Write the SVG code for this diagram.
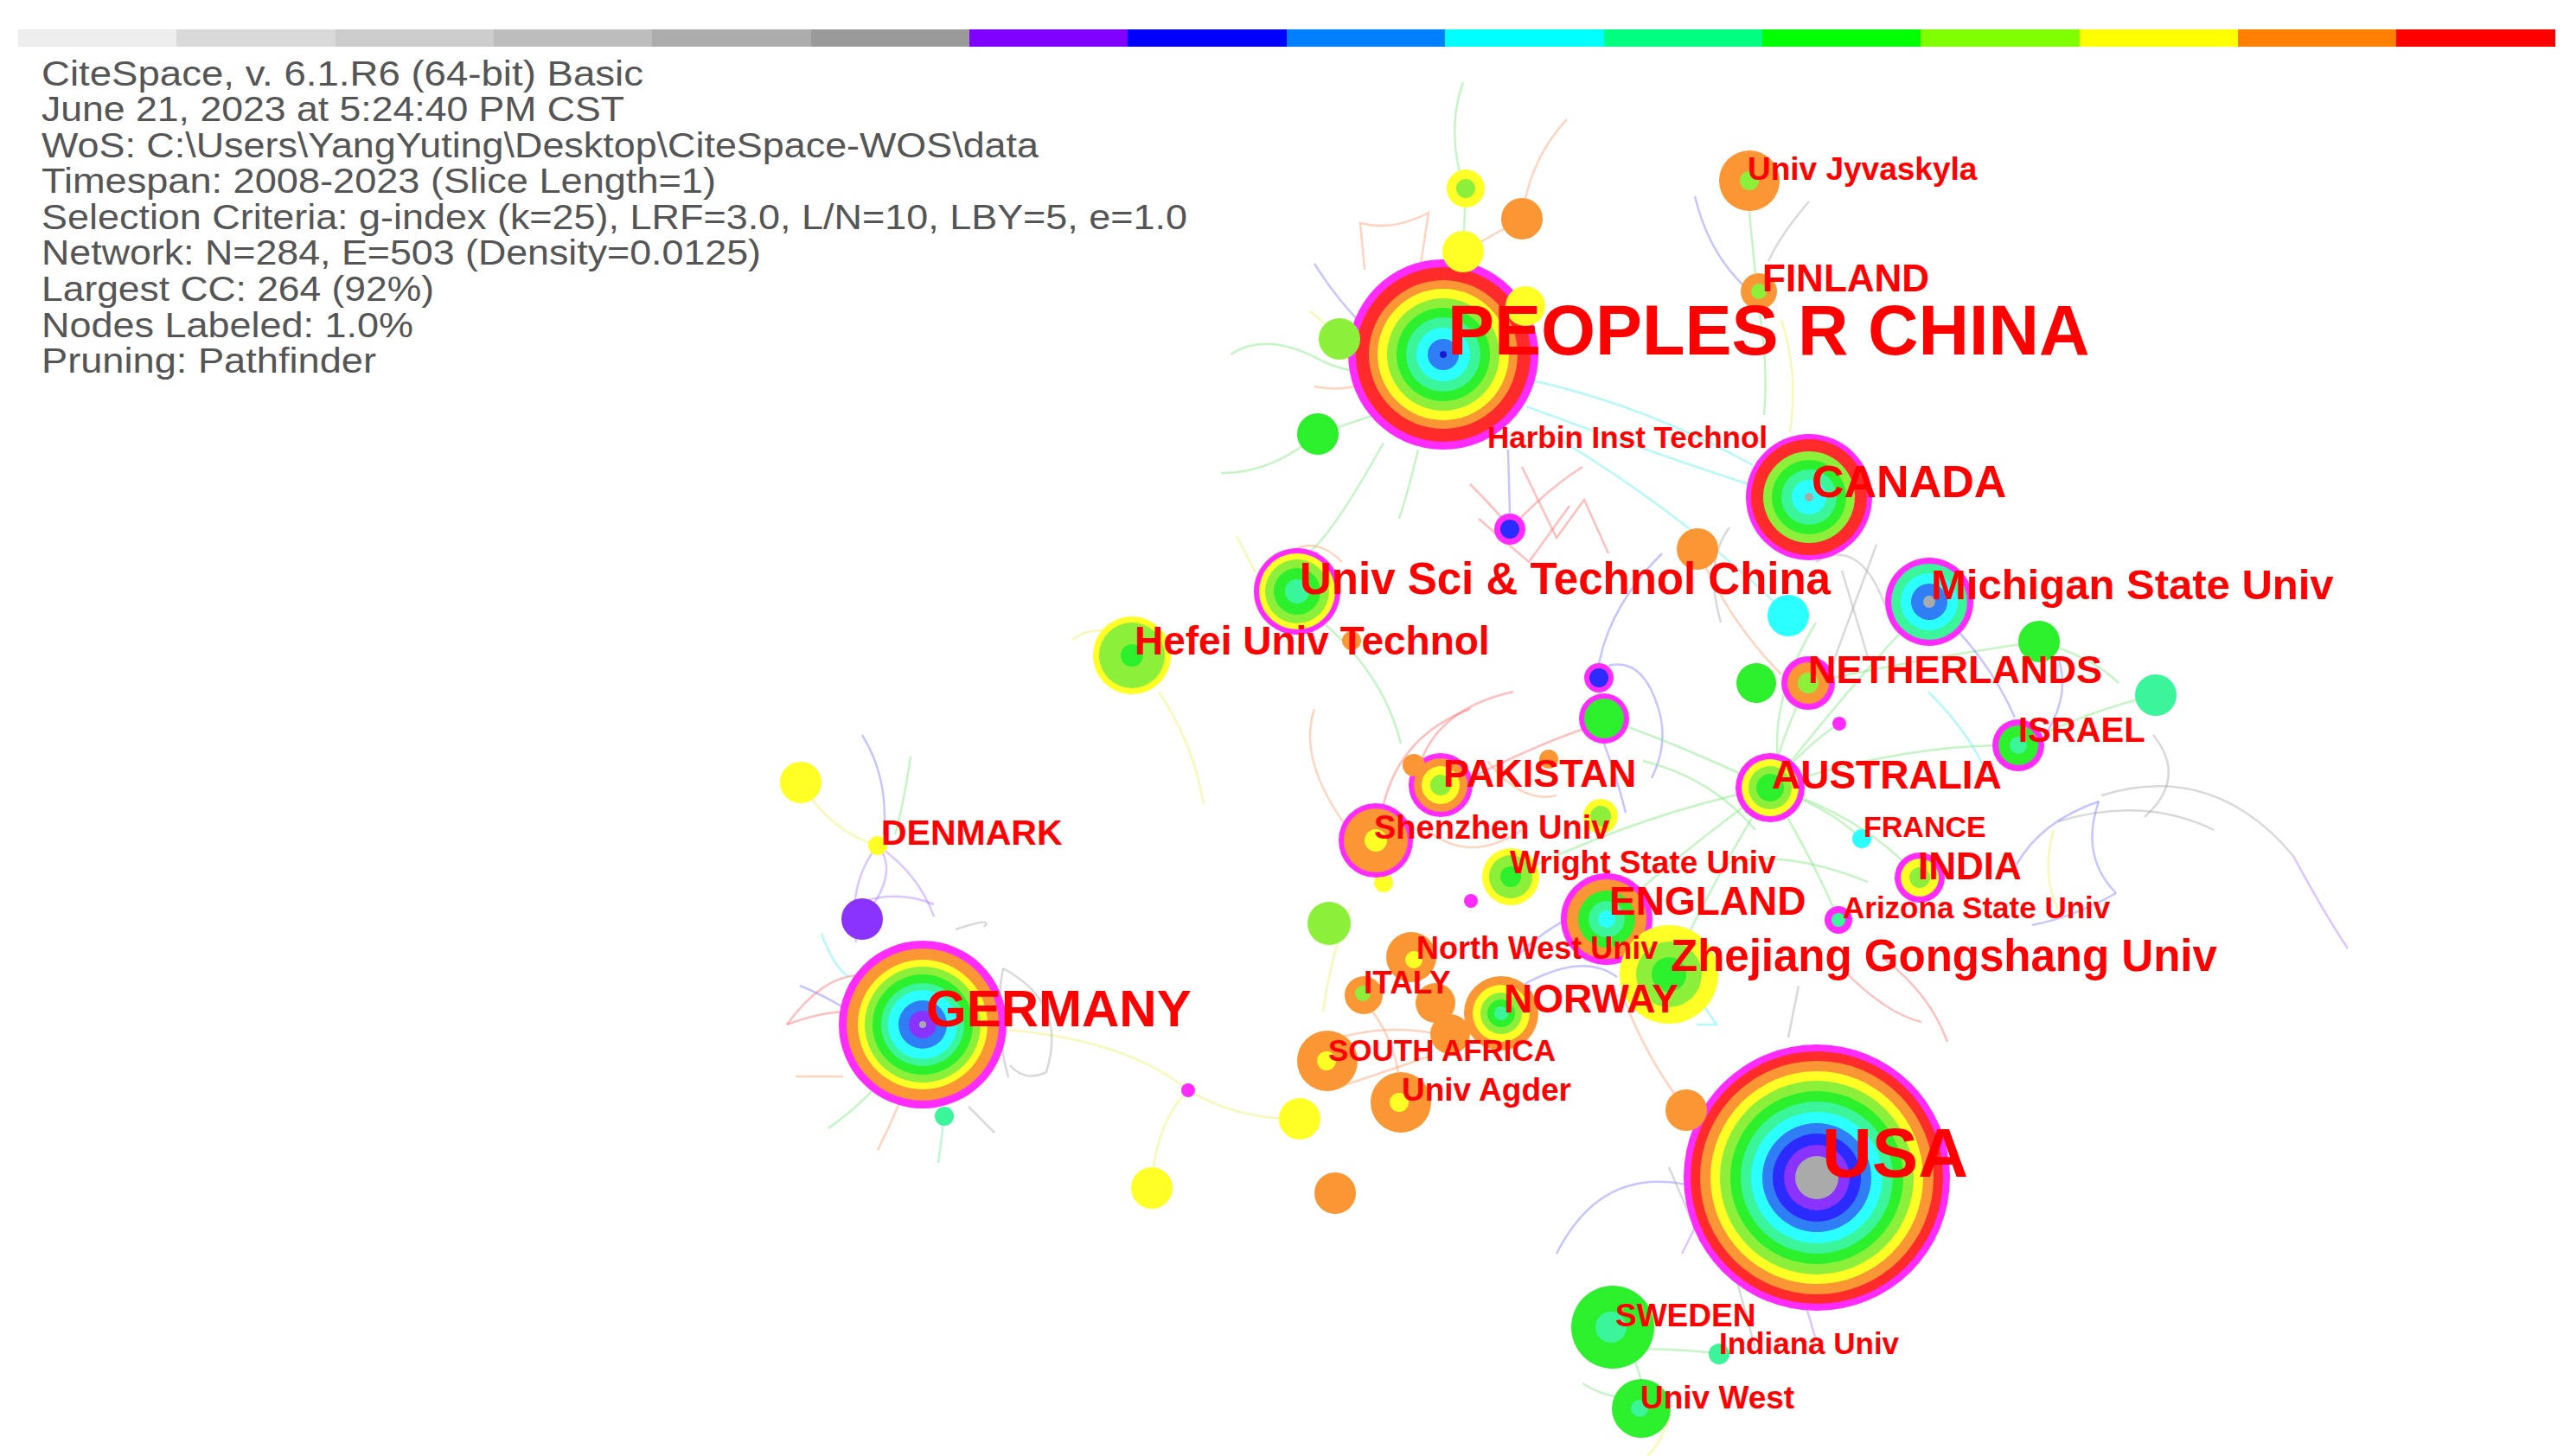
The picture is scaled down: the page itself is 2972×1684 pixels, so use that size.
<svg xmlns="http://www.w3.org/2000/svg" width="2972" height="1684" viewBox="0 0 2972 1684">
<style>
.mg{fill:#ff2bff}.rd{fill:#ff2b2b}.or{fill:#fa9633}.ye{fill:#ffff26}.ch{fill:#8cf03a}.gr{fill:#2cf02c}.sp{fill:#3af59a}.cy{fill:#2bffff}.az{fill:#2f7ef5}.bl{fill:#2b2bff}.pu{fill:#8a33ff}.gy{fill:#aaaaaa}.db{fill:#1a1ad0}
.e{fill:none;stroke-width:2.5;stroke-opacity:0.45}
.eg{stroke:#7fe87f}.eb{stroke:#8080ff}.eo{stroke:#ffa070}.er{stroke:#ff7070}.ec{stroke:#60f0f0}.ey{stroke:#f0f060}.ep{stroke:#b080ff}.ea{stroke:#aaaaaa}.es{stroke:#70f0b0}
.hd{font-family:"Liberation Sans",Arial,sans-serif;font-size:40px;fill:#555555}
.lb{font-family:"Liberation Sans",Arial,sans-serif;font-weight:bold;fill:#ff0000}
</style>
<rect width="2972" height="1684" fill="#ffffff"/>
<g id="timebar">
<rect x="21" y="34" width="184" height="20" fill="#eeeeee"/>
<rect x="204" y="34" width="184" height="20" fill="#d9d9d9"/>
<rect x="388" y="34" width="184" height="20" fill="#cccccc"/>
<rect x="571" y="34" width="184" height="20" fill="#bdbdbd"/>
<rect x="754" y="34" width="184" height="20" fill="#acacac"/>
<rect x="938" y="34" width="184" height="20" fill="#9a9a9a"/>
<rect x="1121" y="34" width="184" height="20" fill="#8000ff"/>
<rect x="1304" y="34" width="184" height="20" fill="#0000ff"/>
<rect x="1488" y="34" width="184" height="20" fill="#0080ff"/>
<rect x="1671" y="34" width="184" height="20" fill="#00ffff"/>
<rect x="1855" y="34" width="184" height="20" fill="#00ff80"/>
<rect x="2038" y="34" width="184" height="20" fill="#00ff00"/>
<rect x="2221" y="34" width="184" height="20" fill="#80ff00"/>
<rect x="2405" y="34" width="184" height="20" fill="#ffff00"/>
<rect x="2588" y="34" width="184" height="20" fill="#ff8000"/>
<rect x="2771" y="34" width="184" height="20" fill="#ff0000"/>
</g>
<g id="header">
<text class="hd" x="48" y="99" textLength="696" lengthAdjust="spacingAndGlyphs">CiteSpace, v. 6.1.R6 (64-bit) Basic</text>
<text class="hd" x="48" y="140" textLength="674" lengthAdjust="spacingAndGlyphs">June 21, 2023 at 5:24:40 PM CST</text>
<text class="hd" x="48" y="182" textLength="1153" lengthAdjust="spacingAndGlyphs">WoS: C:\Users\YangYuting\Desktop\CiteSpace-WOS\data</text>
<text class="hd" x="48" y="223" textLength="780" lengthAdjust="spacingAndGlyphs">Timespan: 2008-2023 (Slice Length=1)</text>
<text class="hd" x="48" y="265" textLength="1325" lengthAdjust="spacingAndGlyphs">Selection Criteria: g-index (k=25), LRF=3.0, L/N=10, LBY=5, e=1.0</text>
<text class="hd" x="48" y="306" textLength="832" lengthAdjust="spacingAndGlyphs">Network: N=284, E=503 (Density=0.0125)</text>
<text class="hd" x="48" y="348" textLength="454" lengthAdjust="spacingAndGlyphs">Largest CC: 264 (92%)</text>
<text class="hd" x="48" y="390" textLength="430" lengthAdjust="spacingAndGlyphs">Nodes Labeled: 1.0%</text>
<text class="hd" x="48" y="431" textLength="387" lengthAdjust="spacingAndGlyphs">Pruning: Pathfinder</text>
</g>
<g id="connectors">
<path class="e eg" d="M1693,218 Q1672,150 1692,95"/>
<path class="e eo" d="M1760,253 Q1768,185 1812,138"/>
<path class="e eo" d="M1692,291 L1760,253"/>
<path class="e eg" d="M1695,218 L1692,291"/>
<path class="e eb" d="M1520,305 Q1545,345 1575,375"/>
<path class="e eg" d="M1423,410 Q1465,382 1530,418 Q1560,432 1585,428"/>
<path class="e eg" d="M1412,547 Q1470,548 1524,502 L1595,478"/>
<path class="e eo" d="M1578,312 L1573,258 Q1610,268 1652,246 L1642,312"/>
<path class="e eo" d="M1520,447 Q1545,452 1566,447"/>
<path class="e ey" d="M1515,360 L1548,388"/>
<path class="e ec" d="M1765,470 Q1900,520 2022,560"/>
<path class="e ec" d="M1772,440 Q1905,470 2027,538"/>
<path class="e ec" d="M1790,500 Q1950,595 2068,712"/>
<path class="e eg" d="M1640,520 Q1628,570 1618,600"/>
<path class="e eg" d="M1600,512 Q1540,620 1512,640"/>
<path class="e er" d="M1700,560 Q1738,598 1746,612"/>
<path class="e er" d="M1746,612 Q1790,565 1830,540"/>
<path class="e er" d="M1760,540 L1800,622 L1832,578 L1860,640"/>
<path class="e er" d="M1710,600 L1768,650 L1815,585"/>
<path class="e eb" d="M1746,594 L1744,520"/>
<path class="e eb" d="M1849,768 Q1862,700 1922,640"/>
<path class="e eb" d="M1860,770 Q1900,760 1918,820 Q1930,860 1910,900"/>
<path class="e ea" d="M2100,650 Q2150,620 2180,700"/>
<path class="e ea" d="M2130,660 L2160,760"/>
<path class="e ea" d="M2170,630 L2100,820"/>
<path class="e ea" d="M2000,610 Q1970,650 1990,720"/>
<path class="e eo" d="M1963,635 Q2000,720 2060,780"/>
<path class="e eg" d="M2047,911 Q2060,850 2091,790"/>
<path class="e eg" d="M2047,911 Q2090,860 2127,837"/>
<path class="e eg" d="M2047,911 Q2200,860 2334,862"/>
<path class="e eg" d="M2047,911 Q2150,940 2220,1015"/>
<path class="e eg" d="M2047,911 Q1950,980 1858,1063"/>
<path class="e eg" d="M2047,911 Q1900,940 1747,1014"/>
<path class="e eg" d="M2047,911 Q2110,930 2153,970"/>
<path class="e eg" d="M2047,911 Q2100,1000 2126,1064"/>
<path class="e eg" d="M2047,911 Q1980,1020 1930,1127"/>
<path class="e eg" d="M2047,911 Q1940,860 1855,831"/>
<path class="e eg" d="M2047,911 Q2150,780 2231,696"/>
<path class="e eg" d="M2091,790 Q2230,760 2358,742"/>
<path class="e eg" d="M2334,862 Q2420,820 2493,804"/>
<path class="e eg" d="M2358,742 Q2420,760 2450,790"/>
<path class="e eg" d="M1990,1000 Q2060,980 2160,1020"/>
<path class="e eg" d="M2100,720 Q2040,820 2060,900"/>
<path class="e eg" d="M1900,880 Q1980,900 2030,960"/>
<path class="e eb" d="M2231,696 Q2300,760 2330,830"/>
<path class="e eb" d="M2380,760 Q2400,820 2340,880"/>
<path class="e ec" d="M2230,800 Q2280,850 2300,900"/>
<path class="e er" d="M1640,890 Q1660,820 1750,800"/>
<path class="e er" d="M1600,930 Q1620,850 1700,820"/>
<path class="e er" d="M1700,900 Q1780,860 1840,840"/>
<path class="e eo" d="M1560,960 Q1500,880 1520,820"/>
<path class="e eo" d="M1650,960 Q1700,1000 1760,960"/>
<path class="e eo" d="M1720,880 Q1760,930 1800,920"/>
<path class="e eb" d="M1855,860 Q1870,900 1880,940"/>
<path class="e ea" d="M2430,920 Q2560,880 2652,990"/>
<path class="e ep" d="M2652,990 Q2690,1060 2715,1097"/>
<path class="e ea" d="M2380,950 Q2480,920 2560,960"/>
<path class="e ea" d="M2490,850 Q2530,900 2480,945"/>
<path class="e eb" d="M2427,927 Q2360,950 2332,1000"/>
<path class="e eb" d="M2427,927 Q2405,990 2447,1033"/>
<path class="e eb" d="M2447,1033 Q2400,1060 2350,1070"/>
<path class="e ey" d="M2375,960 Q2360,1010 2380,1052"/>
<path class="e ep" d="M997,1063 Q1042,1010 1015,978"/>
<path class="e ep" d="M1015,978 Q980,1020 990,1090"/>
<path class="e ep" d="M1015,978 Q1062,1010 1080,1060"/>
<path class="e ep" d="M1000,1042 Q1040,1030 1080,1046"/>
<path class="e eb" d="M997,850 Q1028,900 1022,965"/>
<path class="e eg" d="M1053,875 Q1045,930 1035,965"/>
<path class="e ey" d="M926,905 Q960,962 1015,978"/>
<path class="e ey" d="M1150,1190 Q1300,1200 1374,1261"/>
<path class="e ey" d="M1374,1261 Q1430,1295 1503,1294"/>
<path class="e ey" d="M1374,1261 Q1335,1300 1332,1374"/>
<path class="e ea" d="M1160,1120 Q1235,1160 1210,1240 Q1185,1252 1168,1232"/>
<path class="e ea" d="M1160,1120 Q1148,1180 1166,1246"/>
<path class="e ea" d="M1105,1075 Q1150,1060 1138,1072"/>
<path class="e er" d="M910,1185 Q950,1130 992,1128"/>
<path class="e er" d="M910,1185 Q950,1170 982,1170"/>
<path class="e eb" d="M925,1140 Q950,1150 975,1165"/>
<path class="e ec" d="M950,1080 Q965,1120 982,1130"/>
<path class="e eg" d="M958,1305 Q990,1282 1010,1260"/>
<path class="e eo" d="M1015,1330 Q1030,1300 1040,1276"/>
<path class="e eo" d="M920,1245 L975,1245"/>
<path class="e es" d="M1092,1291 L1085,1345"/>
<path class="e ea" d="M1120,1280 L1150,1310"/>
<path class="e eb" d="M1800,1450 Q1850,1350 1950,1370"/>
<path class="e ea" d="M1930,1350 L1960,1420"/>
<path class="e ep" d="M1960,1420 L1945,1450"/>
<path class="e ep" d="M2080,1480 L2100,1550"/>
<path class="e ea" d="M2000,1450 L2030,1560"/>
<path class="e eg" d="M1865,1535 Q1905,1580 1898,1629"/>
<path class="e eg" d="M1880,1560 Q1950,1560 1988,1566"/>
<path class="e eg" d="M1830,1600 Q1870,1625 1905,1610"/>
<path class="e ey" d="M1930,1640 Q1920,1670 1905,1684"/>
<path class="e eo" d="M1880,1160 Q1905,1225 1950,1284"/>
<path class="e ec" d="M1965,1155 L1985,1185 L1962,1185"/>
<path class="e er" d="M2180,1110 Q2232,1150 2252,1205"/>
<path class="e er" d="M2130,1120 Q2180,1172 2222,1182"/>
<path class="e ea" d="M2080,1140 L2068,1200"/>
<path class="e eb" d="M1750,1110 Q1800,1060 1850,1050"/>
<path class="e eb" d="M1760,1140 Q1830,1100 1870,1130"/>
<path class="e ey" d="M1240,740 Q1270,718 1300,740"/>
<path class="e ey" d="M1340,800 Q1380,860 1392,930"/>
<path class="e eo" d="M1490,640 Q1520,618 1552,650"/>
<path class="e ey" d="M1430,620 L1452,662"/>
<path class="e eg" d="M1530,720 Q1600,780 1620,860"/>
<path class="e eo" d="M1520,1210 Q1600,1178 1680,1200"/>
<path class="e eo" d="M1540,1260 Q1600,1240 1652,1222"/>
<path class="e ey" d="M1530,1170 Q1540,1100 1562,1050"/>
<path class="e eo" d="M1570,1150 Q1620,1200 1620,1275"/>
<path class="e eb" d="M1960,227 Q1975,290 2016,330"/>
<path class="e ea" d="M2092,233 Q2060,270 2045,302"/>
<path class="e eg" d="M2023,245 L2030,318"/>
<path class="e eg" d="M2034,357 Q2045,420 2040,480"/>
<path class="e ey" d="M2060,370 Q2080,430 2070,500"/>
</g>
<g id="nodes">
<g id="node-china"><circle cx="1669" cy="410" r="110" class="mg"/><circle cx="1669" cy="410" r="101" class="rd"/><circle cx="1669" cy="410" r="86" class="or"/><circle cx="1669" cy="410" r="76" class="ye"/><circle cx="1669" cy="410" r="65" class="ch"/><circle cx="1669" cy="410" r="54" class="gr"/><circle cx="1669" cy="410" r="43" class="sp"/><circle cx="1669" cy="410" r="31" class="cy"/><circle cx="1669" cy="410" r="18" class="az"/><circle cx="1669" cy="410" r="4" class="db"/></g>
<g id="node-usa"><circle cx="2101" cy="1362" r="154" class="mg"/><circle cx="2101" cy="1362" r="146" class="rd"/><circle cx="2101" cy="1362" r="135" class="or"/><circle cx="2101" cy="1362" r="123" class="ye"/><circle cx="2101" cy="1362" r="112" class="ch"/><circle cx="2101" cy="1362" r="100" class="gr"/><circle cx="2101" cy="1362" r="88" class="sp"/><circle cx="2101" cy="1362" r="76" class="cy"/><circle cx="2101" cy="1362" r="63" class="az"/><circle cx="2101" cy="1362" r="51" class="bl"/><circle cx="2101" cy="1362" r="38" class="pu"/><circle cx="2101" cy="1362" r="25" class="gy"/></g>
<g id="node-germany"><circle cx="1067" cy="1185" r="97" class="mg"/><circle cx="1067" cy="1185" r="88" class="or"/><circle cx="1067" cy="1185" r="75" class="ye"/><circle cx="1067" cy="1185" r="67" class="ch"/><circle cx="1067" cy="1185" r="58" class="gr"/><circle cx="1067" cy="1185" r="48" class="sp"/><circle cx="1067" cy="1185" r="40" class="cy"/><circle cx="1067" cy="1185" r="28" class="az"/><circle cx="1067" cy="1185" r="16" class="pu"/><circle cx="1067" cy="1185" r="4" class="gy"/></g>
<g id="node-canada"><circle cx="2092" cy="575" r="73" class="mg"/><circle cx="2092" cy="575" r="67" class="rd"/><circle cx="2092" cy="575" r="53" class="ch"/><circle cx="2092" cy="575" r="43" class="gr"/><circle cx="2092" cy="575" r="32" class="sp"/><circle cx="2092" cy="575" r="20" class="cy"/><circle cx="2092" cy="575" r="5" class="gy"/></g>
<g id="node-michigan"><circle cx="2231" cy="696" r="51" class="mg"/><circle cx="2231" cy="696" r="44" class="sp"/><circle cx="2231" cy="696" r="33" class="cy"/><circle cx="2231" cy="696" r="21" class="az"/><circle cx="2231" cy="696" r="7" class="gy"/></g>
<g id="node-ustc"><circle cx="1500" cy="684" r="50" class="mg"/><circle cx="1500" cy="684" r="44" class="ye"/><circle cx="1500" cy="684" r="37" class="ch"/><circle cx="1500" cy="684" r="27" class="gr"/><circle cx="1500" cy="684" r="14" class="sp"/></g>
<g id="node-hefei"><circle cx="1309" cy="758" r="45" class="ye"/><circle cx="1309" cy="758" r="38" class="ch"/><circle cx="1309" cy="758" r="13" class="gr"/></g>
<g id="node-england"><circle cx="1858" cy="1063" r="53" class="mg"/><circle cx="1858" cy="1063" r="46" class="or"/><circle cx="1858" cy="1063" r="33" class="gr"/><circle cx="1858" cy="1063" r="21" class="sp"/><circle cx="1858" cy="1063" r="10" class="cy"/></g>
<g id="node-zhejiang"><circle cx="1930" cy="1127" r="57" class="ye"/><circle cx="1930" cy="1127" r="38" class="ch"/><circle cx="1930" cy="1127" r="20" class="gr"/></g>
<g id="node-pakistan"><circle cx="1666" cy="908" r="37" class="mg"/><circle cx="1666" cy="908" r="31" class="or"/><circle cx="1666" cy="908" r="22" class="ye"/><circle cx="1666" cy="908" r="12" class="ch"/></g>
<g id="node-australia"><circle cx="2047" cy="911" r="40" class="mg"/><circle cx="2047" cy="911" r="33" class="ye"/><circle cx="2047" cy="911" r="25" class="ch"/><circle cx="2047" cy="911" r="16" class="gr"/></g>
<g id="node-netherlands"><circle cx="2091" cy="790" r="31" class="mg"/><circle cx="2091" cy="790" r="24" class="or"/><circle cx="2091" cy="790" r="12" class="ch"/></g>
<g id="node-israel"><circle cx="2334" cy="862" r="30" class="mg"/><circle cx="2334" cy="862" r="23" class="gr"/><circle cx="2334" cy="862" r="10" class="sp"/></g>
<g id="node-india"><circle cx="2220" cy="1015" r="29" class="mg"/><circle cx="2220" cy="1015" r="22" class="ye"/><circle cx="2220" cy="1015" r="12" class="ch"/></g>
<g id="node-n22"><circle cx="1600" cy="1021" r="11" class="ye"/></g>
<g id="node-shenzhen"><circle cx="1591" cy="972" r="43" class="mg"/><circle cx="1591" cy="972" r="37" class="or"/><circle cx="1591" cy="972" r="13" class="ye"/></g>
<g id="node-wright"><circle cx="1747" cy="1014" r="33" class="ye"/><circle cx="1747" cy="1014" r="25" class="ch"/><circle cx="1747" cy="1014" r="12" class="gr"/></g>
<g id="node-n23"><circle cx="1660" cy="1160" r="23" class="or"/></g>
<g id="node-n24"><circle cx="1677" cy="1196" r="23" class="or"/></g>
<g id="node-northwest"><circle cx="1632" cy="1107" r="29" class="or"/><circle cx="1635" cy="1110" r="10" class="ye"/></g>
<g id="node-norway"><circle cx="1736" cy="1172" r="43" class="or"/><circle cx="1736" cy="1172" r="33" class="ye"/><circle cx="1736" cy="1172" r="24" class="ch"/><circle cx="1736" cy="1172" r="16" class="gr"/><circle cx="1736" cy="1172" r="8" class="sp"/></g>
<g id="node-italy"><circle cx="1577" cy="1151" r="22" class="or"/><circle cx="1576" cy="1149" r="9" class="ch"/></g>
<g id="node-southafrica"><circle cx="1535" cy="1227" r="35" class="or"/><circle cx="1534" cy="1227" r="11" class="ye"/></g>
<g id="node-agder"><circle cx="1620" cy="1275" r="35" class="or"/><circle cx="1618" cy="1275" r="11" class="ye"/></g>
<g id="node-sweden"><circle cx="1865" cy="1535" r="48" class="gr"/><circle cx="1863" cy="1535" r="18" class="sp"/></g>
<g id="node-univwest"><circle cx="1898" cy="1629" r="34" class="gr"/><circle cx="1896" cy="1629" r="10" class="sp"/></g>
<g id="node-indiana"><circle cx="1988" cy="1566" r="12" class="sp"/></g>
<g id="node-arizona"><circle cx="2126" cy="1064" r="16" class="mg"/><circle cx="2126" cy="1064" r="8" class="sp"/></g>
<g id="node-france"><circle cx="2153" cy="970" r="11" class="cy"/></g>
<g id="node-denmark"><circle cx="1015" cy="978" r="11" class="ye"/></g>
<g id="node-finland"><circle cx="2034" cy="337" r="21" class="or"/><circle cx="2034" cy="337" r="9" class="ch"/></g>
<g id="node-jyvaskyla"><circle cx="2023" cy="209" r="35" class="or"/><circle cx="2023" cy="209" r="11" class="ch"/></g>
<g id="node-n1"><circle cx="1695" cy="218" r="22" class="ye"/><circle cx="1695" cy="218" r="11" class="ch"/></g>
<g id="node-n2"><circle cx="1760" cy="253" r="24" class="or"/></g>
<g id="node-n3"><circle cx="1692" cy="291" r="24" class="ye"/></g>
<g id="node-n4"><circle cx="1764" cy="354" r="23" class="ye"/></g>
<g id="node-n5"><circle cx="1549" cy="392" r="24" class="ch"/></g>
<g id="node-n6"><circle cx="1524" cy="502" r="24" class="gr"/></g>
<g id="node-n7"><circle cx="1746" cy="612" r="18" class="mg"/><circle cx="1746" cy="612" r="11" class="bl"/></g>
<g id="node-n8"><circle cx="1963" cy="635" r="24" class="or"/></g>
<g id="node-n9"><circle cx="2068" cy="712" r="24" class="cy"/></g>
<g id="node-n10"><circle cx="2358" cy="742" r="24" class="gr"/></g>
<g id="node-n11"><circle cx="2031" cy="790" r="23" class="gr"/></g>
<g id="node-n12"><circle cx="2493" cy="804" r="24" class="sp"/></g>
<g id="node-n13"><circle cx="2127" cy="837" r="8" class="mg"/></g>
<g id="node-n14"><circle cx="1849" cy="784" r="17" class="mg"/><circle cx="1849" cy="784" r="11" class="bl"/></g>
<g id="node-n15"><circle cx="1855" cy="831" r="29" class="mg"/><circle cx="1855" cy="831" r="23" class="gr"/></g>
<g id="node-n16"><circle cx="1635" cy="885" r="13" class="or"/></g>
<g id="node-n17"><circle cx="1791" cy="878" r="11" class="or"/></g>
<g id="node-n18"><circle cx="1851" cy="944" r="20" class="ye"/><circle cx="1851" cy="944" r="12" class="ch"/></g>
<g id="node-n19"><circle cx="1563" cy="741" r="11" class="or"/></g>
<g id="node-n20"><circle cx="1537" cy="1068" r="25" class="ch"/></g>
<g id="node-n21"><circle cx="1701" cy="1042" r="8" class="mg"/></g>
<g id="node-n25"><circle cx="1950" cy="1284" r="24" class="or"/></g>
<g id="node-n26"><circle cx="1503" cy="1294" r="24" class="ye"/></g>
<g id="node-n27"><circle cx="1544" cy="1380" r="24" class="or"/></g>
<g id="node-n28"><circle cx="1332" cy="1374" r="24" class="ye"/></g>
<g id="node-n29"><circle cx="1374" cy="1261" r="8" class="mg"/></g>
<g id="node-n30"><circle cx="997" cy="1063" r="24" class="pu"/></g>
<g id="node-n31"><circle cx="926" cy="905" r="24" class="ye"/></g>
<g id="node-n32"><circle cx="1092" cy="1291" r="11" class="sp"/></g>
</g>
<g id="labels">
<text class="lb" x="1674" y="410" font-size="81">PEOPLES R CHINA</text>
<text class="lb" x="2107" y="1361" font-size="80">USA</text>
<text class="lb" x="1071" y="1187" font-size="60">GERMANY</text>
<text class="lb" x="2095" y="575" font-size="52">CANADA</text>
<text class="lb" x="1503" y="687" font-size="51">Univ Sci &amp; Technol China</text>
<text class="lb" x="2233" y="693" font-size="49">Michigan State Univ</text>
<text class="lb" x="1312" y="757" font-size="46">Hefei Univ Technol</text>
<text class="lb" x="2091" y="790" font-size="45">NETHERLANDS</text>
<text class="lb" x="1669" y="910" font-size="45">PAKISTAN</text>
<text class="lb" x="2049" y="912" font-size="46">AUSTRALIA</text>
<text class="lb" x="2334" y="858" font-size="40">ISRAEL</text>
<text class="lb" x="1861" y="1058" font-size="46">ENGLAND</text>
<text class="lb" x="1932" y="1123" font-size="51">Zhejiang Gongshang Univ</text>
<text class="lb" x="1739" y="1171" font-size="46">NORWAY</text>
<text class="lb" x="2218" y="1017" font-size="44">INDIA</text>
<text class="lb" x="1589" y="970" font-size="38">Shenzhen Univ</text>
<text class="lb" x="1746" y="1010" font-size="37">Wright State Univ</text>
<text class="lb" x="1638" y="1109" font-size="36">North West Univ</text>
<text class="lb" x="1577" y="1149" font-size="37">ITALY</text>
<text class="lb" x="1536" y="1227" font-size="35">SOUTH AFRICA</text>
<text class="lb" x="1621" y="1273" font-size="37">Univ Agder</text>
<text class="lb" x="1868" y="1534" font-size="37">SWEDEN</text>
<text class="lb" x="1988" y="1566" font-size="35">Indiana Univ</text>
<text class="lb" x="1897" y="1629" font-size="37">Univ West</text>
<text class="lb" x="2155" y="968" font-size="34">FRANCE</text>
<text class="lb" x="2131" y="1062" font-size="35">Arizona State Univ</text>
<text class="lb" x="1019" y="977" font-size="41">DENMARK</text>
<text class="lb" x="2038" y="337" font-size="44">FINLAND</text>
<text class="lb" x="2021" y="208" font-size="37">Univ Jyvaskyla</text>
<text class="lb" x="1720" y="518" font-size="35">Harbin Inst Technol</text>
</g>
</svg>
